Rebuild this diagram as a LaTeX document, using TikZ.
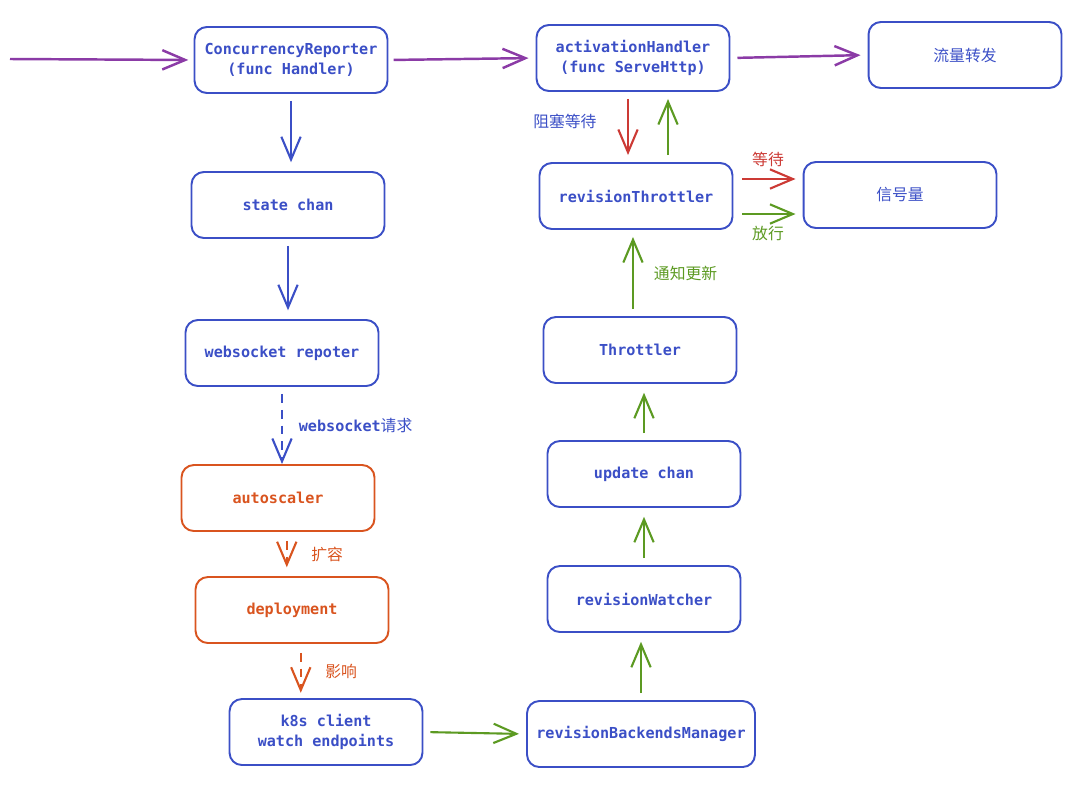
\documentclass[tikz,border=0pt]{standalone}
\usepackage{fontspec}
\setmonofont{DejaVu Sans Mono}
\newfontfamily\cjk{Noto Sans CJK SC}
\usetikzlibrary{arrows.meta}
\definecolor{skblue}{HTML}{3B4FC6}
\definecolor{skpurple}{HTML}{8B3BA6}
\definecolor{skred}{HTML}{CC3A35}
\definecolor{skgreen}{HTML}{5C9A22}
\definecolor{skorange}{HTML}{D9541F}
\newcommand{\zh}[1]{{\cjk\mdseries\fontsize{9}{11}\selectfont #1}}
\tikzset{
	box/.style={draw=skblue, text=skblue, line width=1.1pt, rounded corners=7pt,
		minimum width=3.86cm, minimum height=1.32cm, align=center,
		font=\ttfamily\bfseries\fontsize{8.6}{11.5}\selectfont},
	obox/.style={box, draw=skorange, text=skorange},
	flow/.style={line width=1.2pt, -{Straight Barb[length=13pt,width=11pt]}},
	dflow/.style={flow, dash pattern=on 5pt off 4pt},
	lbl/.style={inner sep=1pt, font=\ttfamily\bfseries\fontsize{8.6}{10.5}\selectfont}
}

\begin{document}
\begin{tikzpicture}[x=0.02cm, y=-0.02cm]
	\useasboundingbox (0,0) rectangle (1070,795);
	% left column
	\node[box] (cr) at (291,60) {ConcurrencyReporter\\(func Handler)};
	\node[box] (sc) at (288,205) {state chan};
	\node[box] (ws) at (282,353) {websocket repoter};
	\node[obox] (as) at (278,498) {autoscaler};
	\node[obox] (dp) at (292,610) {deployment};
	\node[box] (kc) at (326,732) {k8s client\\watch endpoints};
	% right column
	\node[box] (ah) at (633,58) {activationHandler\\(func ServeHttp)};
	\node[box] (ff) at (965,55) {\zh{流量转发}};
	\node[box] (rt) at (636,196) {revisionThrottler};
	\node[box] (sem) at (900,195) {\zh{信号量}};
	\node[box] (th) at (640,350) {Throttler};
	\node[box] (uc) at (644,474) {update chan};
	\node[box] (rw) at (644,599) {revisionWatcher};
	\node[box, minimum width=4.56cm] (bm) at (641,734) {revisionBackendsManager};
	\coordinate (in) at (10,59);
	\coordinate (xr) at (628,0);
	\coordinate (xg) at (668,0);
	\coordinate (yr) at (0,179);
	\coordinate (yg) at (0,214);

	% request path
	\draw[flow, skpurple, line width=1.4pt, shorten >=3pt] (in) -- (cr.west);
	\draw[flow, skpurple, line width=1.4pt, shorten <=3pt, shorten >=4pt] (cr.east) -- (ah.west);
	\draw[flow, skpurple, line width=1.4pt, shorten <=4pt, shorten >=4pt] (ah.east) -- (ff.west);

	% reporting
	\draw[flow, skblue, shorten <=4pt, shorten >=5pt] (cr.south) -- (cr.south |- sc.north);
	\draw[flow, skblue, shorten <=4pt, shorten >=5pt] (sc.south) -- (sc.south |- ws.north);
	\draw[dflow, skblue, shorten <=4pt] (ws.south) -- (ws.south |- as.north)
		node[lbl, midway, right=8pt, text=skblue] {websocket\zh{请求}};
	\draw[dflow, skorange, shorten <=5pt, shorten >=5pt] ([xshift=5pt]as.south) -- ([xshift=5pt]as.south |- dp.north)
		node[midway, right=10pt, text=skorange] {\zh{扩容}};
	\draw[dflow, skorange, shorten <=5pt, shorten >=3pt] ([xshift=5pt]dp.south) -- ([xshift=5pt]dp.south |- kc.north)
		node[midway, right=10pt, text=skorange] {\zh{影响}};

	% endpoints update
	\draw[flow, skgreen, shorten <=4pt, shorten >=4pt] (kc.east) -- (bm.west);
	\draw[flow, skgreen, shorten <=4pt, shorten >=5pt] (bm.north) -- (bm.north |- rw.south);
	\draw[flow, skgreen, shorten <=4pt, shorten >=5pt] (rw.north) -- (rw.north |- uc.south);
	\draw[flow, skgreen, shorten <=4pt, shorten >=5pt] (uc.north) -- (uc.north |- th.south);
	\draw[flow, skgreen, shorten <=4pt, shorten >=4pt] ([xshift=-4pt]th.north) -- ([xshift=-4pt]th.north |- rt.south)
		node[midway, right=8pt, text=skgreen] {\zh{通知更新}};

	% throttling
	\draw[flow, skred, shorten <=4pt, shorten >=4pt] (ah.south -| xr) -- (rt.north -| xr)
		node[midway, left=14pt, yshift=3pt, text=skblue] {\zh{阻塞等待}};
	\draw[flow, skgreen, shorten <=4pt, shorten >=4pt] (rt.north -| xg) -- (ah.south -| xg);
	\draw[flow, skred, shorten <=5pt, shorten >=4pt] (rt.east |- yr) -- (sem.west |- yr)
		node[midway, above=3pt, text=skred] {\zh{等待}};
	\draw[flow, skgreen, shorten <=5pt, shorten >=4pt] (rt.east |- yg) -- (sem.west |- yg)
		node[midway, below=3pt, text=skgreen] {\zh{放行}};
\end{tikzpicture}
\end{document}
